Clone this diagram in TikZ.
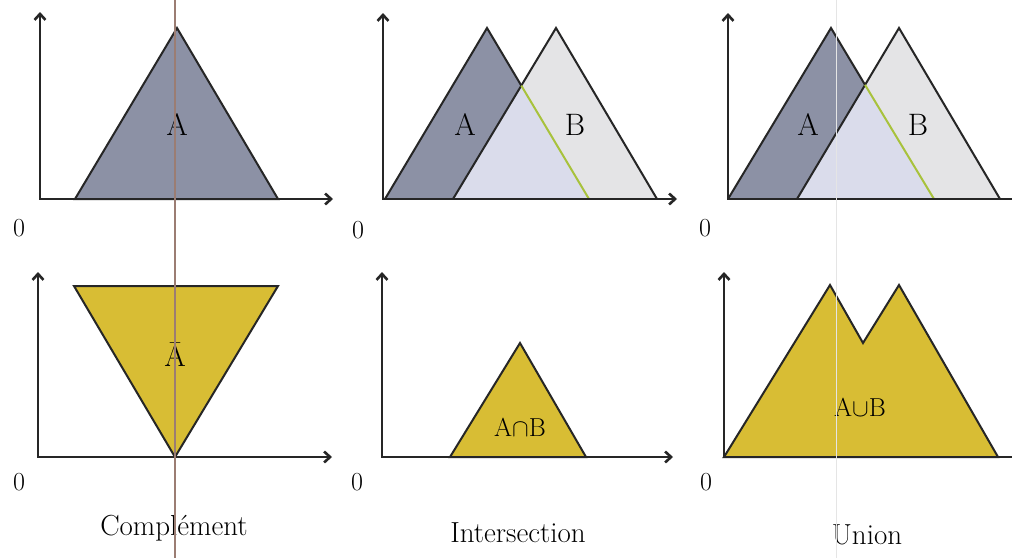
\documentclass[tikz,border=0pt]{standalone}
\usepackage{tikz}
\usetikzlibrary{positioning}
\usetikzlibrary{arrows.meta}

\definecolor{setA}{HTML}{8C91A5}
\definecolor{setB}{HTML}{E4E4E6}
\definecolor{setAB}{HTML}{DADCEB}
\definecolor{result}{HTML}{D8BD34}
\definecolor{cut}{HTML}{A8C23C}
\definecolor{scanline}{RGB}{155,125,115}

\begin{document}
\begin{tikzpicture}
	[x=1pt, y=-1pt,
	axis/.style={draw=black!85, line width=2.6pt,
		{Straight Barb[length=6pt,width=11pt]}-{Straight Barb[length=6pt,width=11pt]}},
	edge/.style={draw=black!85, line width=2pt, line join=miter},
	lab/.style={font=\fontsize{31}{33}\selectfont, inner sep=0pt},
	opn/.style={font=\fontsize{26}{28}\selectfont, inner sep=0pt},
	zero/.style={font=\fontsize{26}{28}\selectfont, inner sep=0pt},
	capt/.style={font=\fontsize{29}{32}\selectfont, inner sep=0pt}]

	\useasboundingbox (0,0) rectangle (1012,558);
	\fill[white] (0,0) rectangle (1012,558);

	% complement, top
	\begin{scope}
		\coordinate (y1) at (40,12);
		\coordinate (x1) at (333,199);
		\filldraw[edge, fill=setA] (75,199) -- (177,28) -- (278,199) -- cycle;
		\draw[axis] (y1) |- (x1);
		\node[lab] (a1) at (177,125) {A};
		\node[zero] (z1) at (19,228) {0};
	\end{scope}

	% intersection, top
	\begin{scope}
		\coordinate (y2) at (383,13);
		\coordinate (x2) at (677,199);
		\coordinate (c2) at (521.3,85.6);
		\fill[setB] (453,199) -- (556,28) -- (657,199) -- cycle;
		\fill[setA] (385,199) -- (487,28) -- (589,199) -- cycle;
		\fill[setAB] (453,199) -- (c2) -- (589,199) -- cycle;
		\draw[edge] (385,199) -- (487,28) -- (c2);
		\draw[edge] (453,199) -- (556,28) -- (657,199);
		\draw[edge, draw=cut] (c2) -- (589,199);
		\draw[axis] (y2) |- (x2);
		\node[lab] (a2) at (465,125) {A};
		\node[lab] (b2) at (575,125) {B};
		\node[zero] (z2) at (358,230) {0};
	\end{scope}

	% union, top
	\begin{scope}
		\coordinate (y3) at (728,13);
		\coordinate (x3) at (1022,199);
		\coordinate (c3) at (865,84.8);
		\fill[setB] (797,199) -- (899,28) -- (1000,199) -- cycle;
		\fill[setA] (728,199) -- (831,28) -- (934,199) -- cycle;
		\fill[setAB] (797,199) -- (c3) -- (934,199) -- cycle;
		\draw[edge] (728,199) -- (831,28) -- (c3);
		\draw[edge] (797,199) -- (899,28) -- (1000,199);
		\draw[edge, draw=cut] (c3) -- (934,199);
		\draw[axis] (y3) |- (x3);
		\node[lab] (a3) at (808,125) {A};
		\node[lab] (b3) at (918,125) {B};
		\node[zero] (z3) at (705,228) {0};
	\end{scope}

	% complement, bottom
	\begin{scope}
		\coordinate (y4) at (38,272);
		\coordinate (x4) at (332,457);
		\filldraw[edge, fill=result] (74,286) -- (278,286) -- (175,457) -- cycle;
		\draw[axis] (y4) |- (x4);
		\node[lab] (a4) at (175,355) {\=A};
		\node[zero] (z4) at (19,482) {0};
		\node[capt] (t4) at (174,528) {Complément};
	\end{scope}

	% intersection, bottom
	\begin{scope}
		\coordinate (y5) at (382,272);
		\coordinate (x5) at (673,457);
		\filldraw[edge, fill=result] (450,457) -- (520,343) -- (586,457) -- cycle;
		\draw[axis] (y5) |- (x5);
		\node[opn] (ab5) at (520,427) {A$\cap$B};
		\node[zero] (z5) at (357,482) {0};
		\node[capt] (t5) at (518,533) {Intersection};
	\end{scope}

	% union, bottom
	\begin{scope}
		\coordinate (y6) at (724,272);
		\coordinate (x6) at (1022,457);
		\filldraw[edge, fill=result] (724,457) -- (830,285) -- (863,343)
			-- (899,285) -- (998,457) -- cycle;
		\draw[axis] (y6) |- (x6);
		\node[opn] (ab6) at (860,407) {A$\cup$B};
		\node[zero] (z6) at (706,482) {0};
		\node[capt] (t6) at (867,535) {Union};
	\end{scope}

	% marks of the scan
	\draw[scanline, line width=2.5pt] (175,0) -- (175,558);
	\draw[black!10, line width=0.8pt] (836,0) -- (836,558);

\end{tikzpicture}
\end{document}
